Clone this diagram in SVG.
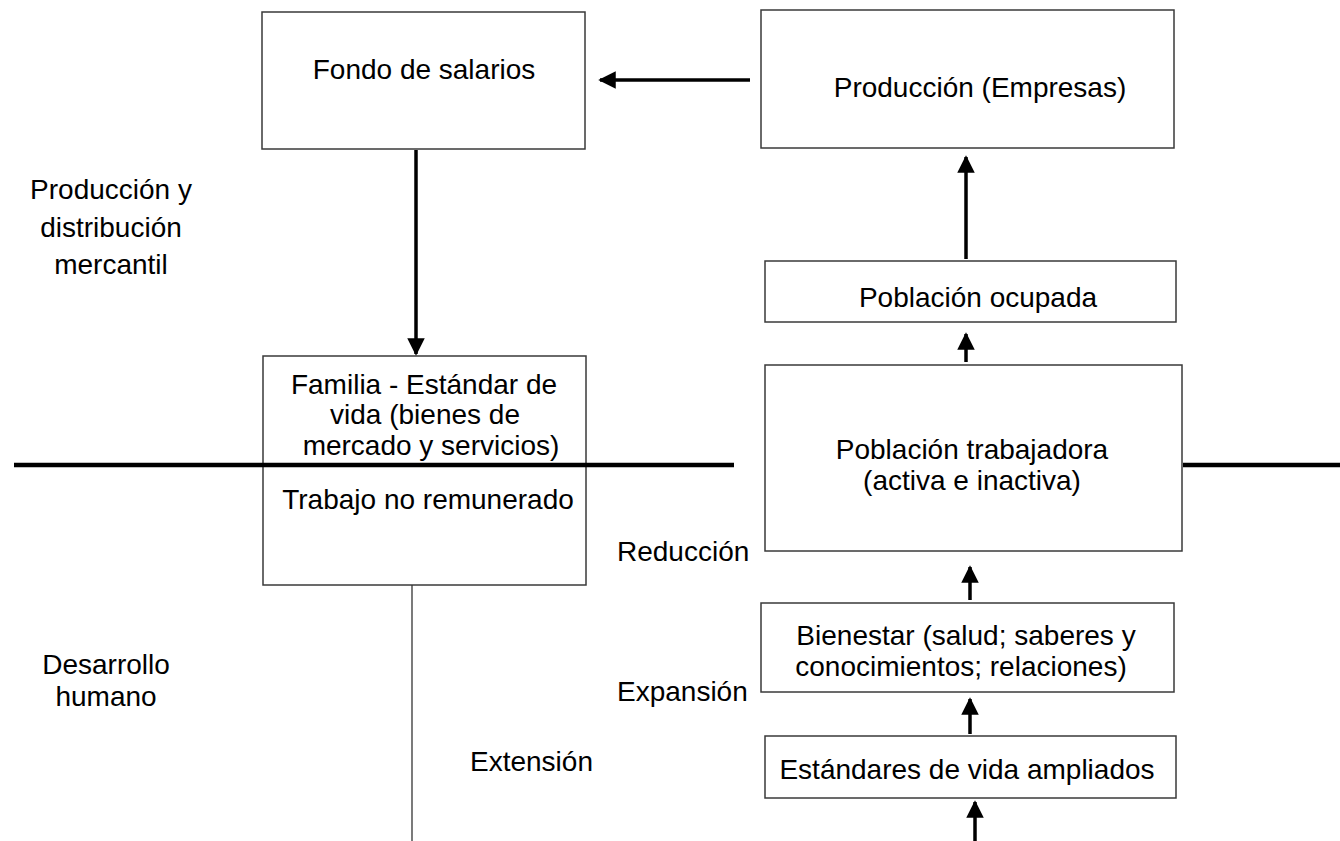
<svg xmlns="http://www.w3.org/2000/svg" width="1340" height="841" viewBox="0 0 1340 841">
<defs>
<style>
.box{fill:#fff;stroke:#3a3a3a;stroke-width:1.5}
.t{font-family:"Liberation Sans",Arial,sans-serif;font-size:28px;fill:#000;text-anchor:middle}
.l{font-family:"Liberation Sans",Arial,sans-serif;font-size:28px;fill:#000}
.c{stroke:#000;stroke-width:3.5;fill:none}
.div{stroke:#000;stroke-width:4.5;fill:none}
.thin{stroke:#333;stroke-width:1.3;fill:none}
</style>
<marker id="ah" viewBox="0 0 10 10" refX="9" refY="5" markerWidth="5" markerHeight="5.2" markerUnits="strokeWidth" orient="auto">
<path d="M0,0 L10,5 L0,10 z" fill="#000"/>
</marker>
</defs>
<rect width="1340" height="841" fill="#fff"/>
<g id="fondo">
<rect class="box" x="262" y="12" width="323" height="137"/>
<text class="t" x="424" y="79">Fondo de salarios</text>
</g>
<g id="produccion">
<rect class="box" x="761" y="10" width="413" height="138"/>
<text class="t" x="980" y="97">Producción (Empresas)</text>
</g>
<g id="ocupada">
<rect class="box" x="765" y="261" width="411" height="61"/>
<text class="t" x="978" y="307">Población ocupada</text>
</g>
<g id="trabajadora">
<rect class="box" x="765" y="365" width="417" height="186"/>
<text class="t" x="972" y="459">Población trabajadora</text>
<text class="t" x="972" y="490">(activa e inactiva)</text>
</g>
<g id="familia">
<rect class="box" x="263" y="356" width="323" height="229"/>
<text class="t" x="424" y="394">Familia - Estándar de</text>
<text class="t" x="425" y="424">vida (bienes de</text>
<text class="t" x="431" y="455">mercado y servicios)</text>
<text class="t" x="428" y="509">Trabajo no remunerado</text>
</g>
<g id="bienestar">
<rect class="box" x="761" y="603" width="413" height="89"/>
<text class="t" x="966" y="645">Bienestar (salud; saberes y</text>
<text class="t" x="961" y="676">conocimientos; relaciones)</text>
</g>
<g id="estandares">
<rect class="box" x="765" y="736" width="411" height="62"/>
<text class="t" x="967" y="779">Estándares de vida ampliados</text>
</g>
<g id="divider">
<line class="div" x1="14" y1="465" x2="734" y2="465"/>
<line class="div" x1="1183" y1="465" x2="1340" y2="465"/>
</g>
<g id="labels">
<text class="t" x="111" y="199">Producción y</text>
<text class="t" x="111" y="237">distribución</text>
<text class="t" x="111" y="274">mercantil</text>
<text class="t" x="106" y="674">Desarrollo</text>
<text class="t" x="106" y="706">humano</text>
<text class="l" x="617" y="561">Reducción</text>
<text class="l" x="617" y="701">Expansión</text>
<text class="l" x="470" y="771">Extensión</text>
</g>
<g id="connectors">
<line class="c" x1="750" y1="80" x2="600" y2="80" marker-end="url(#ah)"/>
<line class="c" x1="416" y1="150" x2="416" y2="354" marker-end="url(#ah)"/>
<line class="c" x1="966" y1="259" x2="966" y2="157" marker-end="url(#ah)"/>
<line class="c" x1="966" y1="362" x2="966" y2="334" marker-end="url(#ah)"/>
<line class="c" x1="970" y1="600" x2="970" y2="567" marker-end="url(#ah)"/>
<line class="c" x1="970" y1="734" x2="970" y2="699" marker-end="url(#ah)"/>
<line class="c" x1="975" y1="841" x2="975" y2="802" marker-end="url(#ah)"/>
<line class="thin" x1="412" y1="585" x2="412" y2="841"/>
</g>
</svg>
